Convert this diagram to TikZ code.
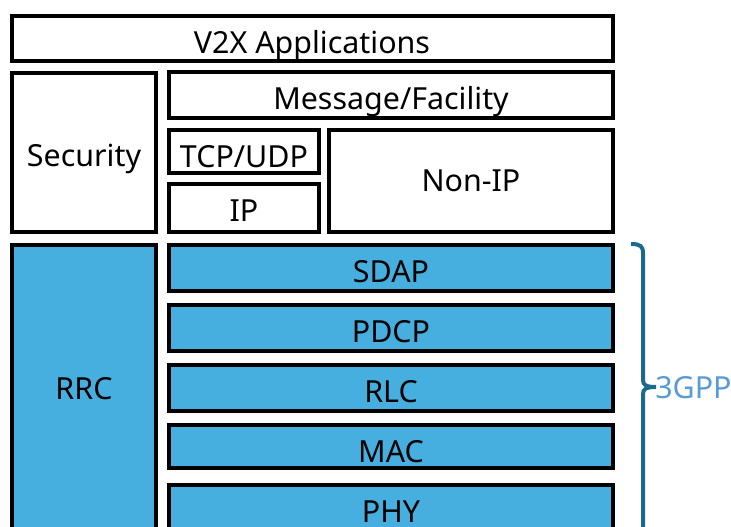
\documentclass[tikz,border=0pt]{standalone}
\usepackage{fontspec}
\setmainfont{Noto Sans}
\definecolor{layerblue}{HTML}{46AFDF}
\definecolor{bracecol}{HTML}{1B6A8E}
\definecolor{tagcol}{HTML}{5B9BD5}
\tikzset{
  layer/.style={draw=black, line width=3pt, fill=white},
  radio/.style={layer, fill=layerblue},
  lbl/.style={anchor=base, inner sep=0pt, font=\fontsize{22.8}{27}\selectfont},
}
\begin{document}
\begin{tikzpicture}[x=0.75pt, y=-0.75pt]
\useasboundingbox (0,0) rectangle (731,527);
\clip (0,0) rectangle (731,527);

% upper (white) protocol layers
\draw[layer] (11.5,16) rectangle (613,61) coordinate (v2xbr);
\node[lbl] (v2x) at (312,54) {V2X Applications};

\draw[layer] (12,73) rectangle (156,232);
\node[lbl] (sec) at (84,167) {Security};

\draw[layer] (169,72) rectangle (613,118);
\node[lbl] (msg) at (391,110) {Message/Facility};

\draw[layer] (169,130) rectangle (319,173);
\node[lbl] (tcp) at (244,168) {TCP/UDP};

\draw[layer] (169,184) rectangle (319,232);
\node[lbl] (ip) at (244,222) {IP};

\draw[layer] (329,130) rectangle (613,232);
\node[lbl] (nonip) at (471,192) {Non-IP};

% 3GPP radio stack (blue)
\draw[radio] (12,245) rectangle (156,560);
\node[lbl] (rrc) at (84,399) {RRC};

\draw[radio] (169,245) rectangle (613,291);
\node[lbl] (sdap) at (391,282) {SDAP};

\draw[radio] (169,305) rectangle (613,351);
\node[lbl] (pdcp) at (391,342) {PDCP};

\draw[radio] (169,365) rectangle (613,411);
\node[lbl] (rlc) at (391,402) {RLC};

\draw[radio] (169,425) rectangle (613,468);
\node[lbl] (mac) at (391,462) {MAC};

\draw[radio] (169,485) rectangle (613,560);
\node[lbl] (phy) at (391,522) {PHY};

% brace spanning the 3GPP layers
\coordinate (bracetop) at (631,244);
\coordinate (bracetip) at (656,387);
\coordinate (bracebot) at (643,545);
\draw[bracecol, line width=3pt]
  (bracetop) .. controls (640,244) and (643,246) .. (643,253)
  -- (643,380) .. controls (643,385) and (646,387) .. (bracetip)
  .. controls (646,387) and (643,389) .. (643,394)
  -- (bracebot);
\node[lbl, anchor=base west, text=tagcol] (tag) at (655,398) {3GPP};
\end{tikzpicture}
\end{document}
